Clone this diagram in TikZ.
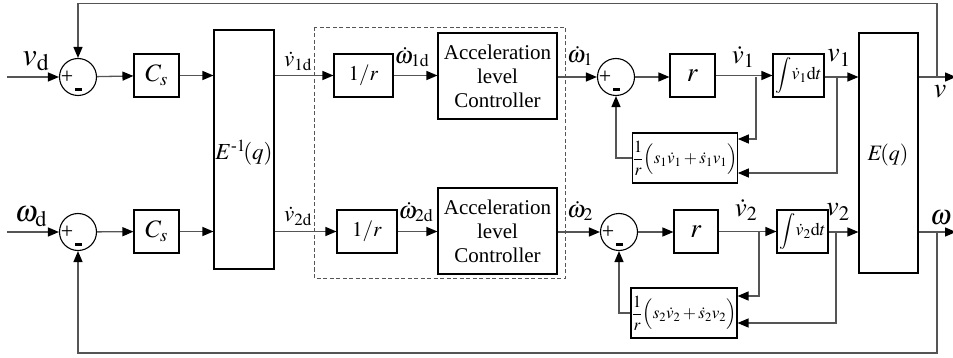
\documentclass[tikz,border=0pt]{standalone}
\usepackage{amsmath}
\usepackage{mathptmx}
\usepackage{fontspec}
\setmainfont{Liberation Serif}
\usetikzlibrary{arrows.meta,calc}
\definecolor{lgray}{HTML}{555555}
\begin{document}
\begin{tikzpicture}[x=1pt,y=-1pt,
  blk/.style={draw=black, line width=1.1pt, inner sep=0pt, rectangle},
  sumnode/.style={draw=black, line width=1.1pt, circle, minimum size=37pt, inner sep=0pt},
  lnk/.style={draw=lgray, line width=1.3pt},
  conn/.style={lnk, -{Triangle[length=11pt,width=9pt,color=black]}},
  mlab/.style={font=\fontsize{26}{28}\selectfont, inner sep=0pt},
  acc/.style={blk, align=center, font=\fontsize{21}{24}\selectfont},
  fb/.style={blk, font=\fontsize{17}{19}\selectfont},
  intb/.style={blk, minimum width=51pt, minimum height=43pt, font=\fontsize{18}{20}\selectfont},
  dashbox/.style={draw=lgray, line width=0.8pt, dash pattern=on 4pt off 2.5pt}
]
\useasboundingbox (0,0) rectangle (953,358);

% dashed group
\draw[dashbox] (314,27) rectangle (565,278);

% ---------- upper row ----------
\node[sumnode] (S1) at (78,77) {};
\node[blk, minimum width=45pt, minimum height=43pt, font=\fontsize{25}{28}\selectfont] (C1) at (156.5,75.5) {$C_s$};
\node[blk, minimum width=60pt, minimum height=239pt] (Einv) at (244,149.5) {};
\node[font=\fontsize{23}{26}\selectfont] (EinvL) at (244,153) {$E^{\text{-}1}\!(q)$};
\node[blk, minimum width=59pt, minimum height=43pt, font=\fontsize{21}{24}\selectfont] (R1) at (363.5,75.5) {$1/r$};
\node[acc, minimum width=119pt, minimum height=86pt] (A1) at (497.5,76) {Acceleration\\level\\Controller};
\node[sumnode] (S2) at (616,77) {};
\node[blk, minimum width=45pt, minimum height=43pt, font=\fontsize{27}{28}\selectfont] (G1) at (692.5,75.5) {$r$};
\node[intb] (I1) at (798.5,75.5) {$\displaystyle\int\!\dot{v}_1\mathrm{d}t$};
\node[fb, minimum width=104pt, minimum height=50pt] (F1) at (685,158) {$\displaystyle\frac{1}{r}\Big(s_1\dot{v}_1+\dot{s}_1v_1\Big)$};
\node[blk, minimum width=59pt, minimum height=240pt] (E) at (888.5,153) {};
\node[font=\fontsize{22}{26}\selectfont] (EL) at (888,155) {$E\!(q)$};

% ---------- lower row ----------
\node[sumnode] (S3) at (78,232) {};
\node[blk, minimum width=45pt, minimum height=43pt, font=\fontsize{25}{28}\selectfont] (C2) at (156.5,231.5) {$C_s$};
\node[blk, minimum width=60pt, minimum height=43pt, font=\fontsize{21}{24}\selectfont] (R2) at (367,231.5) {$1/r$};
\node[acc, minimum width=119pt, minimum height=86pt] (A2) at (497.5,231) {Acceleration\\level\\Controller};
\node[sumnode] (S4) at (619,232) {};
\node[blk, minimum width=44pt, minimum height=43pt, font=\fontsize{27}{28}\selectfont] (G2) at (696,231.5) {$r$};
\node[intb] (I2) at (802.5,231.5) {$\displaystyle\int\!\dot{v}_2\mathrm{d}t$};
\node[fb, minimum width=106pt, minimum height=50pt] (F2) at (684,313) {$\displaystyle\frac{1}{r}\Big(s_2\dot{v}_2+\dot{s}_2v_2\Big)$};

% signs
\foreach \s in {S1,S2,S3,S4}{
  \node[font=\fontsize{22}{22}\selectfont, inner sep=0pt] at ($(\s.center)+(-11,0)$) {+};
  \fill[black] ($(\s.center)+(-3.5,11)$) rectangle ($(\s.center)+(3.5,14)$);
}

% coordinates
\coordinate (in1) at (7,77);
\coordinate (in2) at (7,232);
\coordinate (b1) at (756,77);
\coordinate (b2) at (837,77);
\coordinate (b3) at (759,232);
\coordinate (b4) at (836,232);
\coordinate (o1) at (937,77);
\coordinate (o2) at (937,232);
\coordinate (end1) at (956,77);
\coordinate (end2) at (956,232);
\coordinate (top) at (0,3.5);
\coordinate (bot) at (0,353);

% upper connections
\draw[conn] (in1) -- (S1);
\draw[conn] (S1) -- (C1);
\draw[conn] (C1.east) -- (C1.east -| Einv.west);
\draw[conn] (Einv.east |- R1) -- (R1);
\draw[conn] (R1) -- (A1.west |- R1);
\draw[conn] (A1.east |- S2) -- (S2);
\draw[conn] (S2) -- (G1.west |- S2);
\draw[conn] (G1) -- (I1);
\draw[conn] (I1.east |- b2) -- (E.west |- b2);
\draw[conn] (E.east |- o1) -- (end1);
\draw[conn] (o1) -- (o1 |- top) -- (S1 |- top) -- (S1);
\draw[conn] (b1) |- ($(F1.east)+(0,-19)$);
\draw[conn] (b2) |- ($(F1.east)+(0,15)$);
\draw[conn] (F1.west) -| (S2);

% lower connections
\draw[conn] (in2) -- (S3);
\draw[conn] (S3) -- (C2);
\draw[conn] (C2.east) -- (C2.east -| Einv.west);
\draw[conn] (Einv.east |- R2) -- (R2);
\draw[conn] (R2) -- (A2.west |- R2);
\draw[conn] (A2.east |- S4) -- (S4);
\draw[conn] (S4) -- (G2.west |- S4);
\draw[conn] (G2) -- (I2);
\draw[conn] (I2.east |- b4) -- (E.west |- b4);
\draw[conn] (E.east |- o2) -- (end2);
\draw[conn] (o2) -- (o2 |- bot) -- (S3 |- bot) -- (S3);
\draw[conn] (b3) |- ($(F2.east)+(0,-17)$);
\draw[conn] (b4) |- ($(F2.east)+(0,10)$);
\draw[conn] (F2.west) -| (S4);

% labels
\node[mlab, font=\fontsize{32}{34}\selectfont] (lvd) at (36,61) {$v_{\mathrm{d}}$};
\node[mlab, font=\fontsize{30}{34}\selectfont] (lwd) at (31,217) {$\omega_{\mathrm{d}}$};
\node[mlab, font=\fontsize{23}{26}\selectfont] (lv1d) at (298,61) {$\dot{v}_{\mathrm{1d}}$};
\node[mlab, font=\fontsize{23}{26}\selectfont] (lv2d) at (298,216) {$\dot{v}_{\mathrm{2d}}$};
\node[mlab, font=\fontsize{24}{26}\selectfont] (lw1d) at (412,57) {$\dot{\omega}_{\mathrm{1d}}$};
\node[mlab, font=\fontsize{24}{26}\selectfont] (lw2d) at (416,212) {$\dot{\omega}_{\mathrm{2d}}$};
\node[mlab, font=\fontsize{24}{26}\selectfont] (lw1) at (580,56) {$\dot{\omega}_1$};
\node[mlab, font=\fontsize{24}{26}\selectfont] (lw2) at (580,211) {$\dot{\omega}_2$};
\node[mlab, font=\fontsize{27}{28}\selectfont] (lvv1) at (743,57) {$\dot{v}_1$};
\node[mlab, font=\fontsize{27}{28}\selectfont] (lvv2) at (746,210) {$\dot{v}_2$};
\node[mlab, font=\fontsize{28}{28}\selectfont] (lv1) at (839,58) {$v_1$};
\node[mlab, font=\fontsize{28}{28}\selectfont] (lv2) at (838,212) {$v_2$};
\node[mlab, font=\fontsize{28}{28}\selectfont] (lv) at (940,92) {$v$};
\node[mlab, font=\fontsize{28}{28}\selectfont] (lw) at (941,218) {$\omega$};
\end{tikzpicture}
\end{document}
